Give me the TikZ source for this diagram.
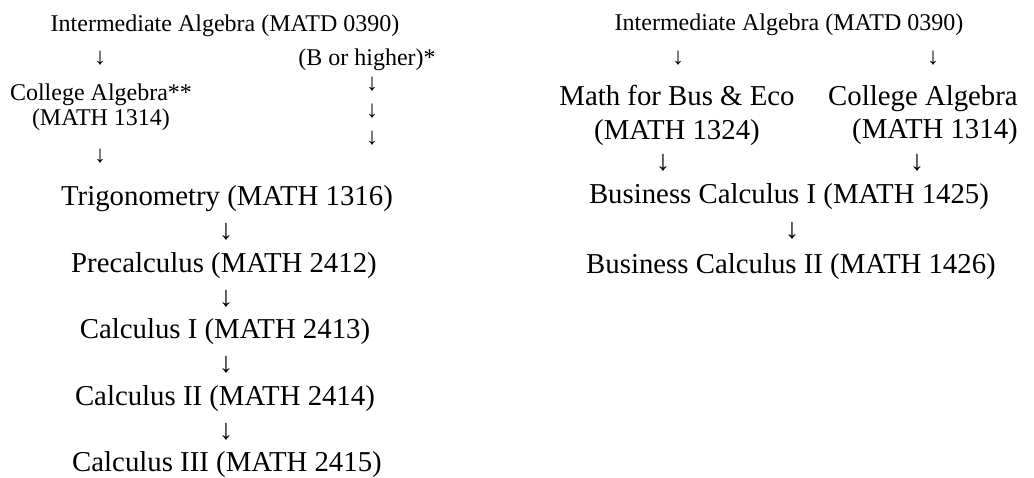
\documentclass[tikz,border=0pt]{standalone}
\usepackage{fontspec}
\setmainfont{Liberation Serif}
\usepackage{tikz}
\tikzset{
  crs/.style={inner sep=0pt, align=center, font=\fontsize{12}{12.8}\selectfont},
  crsbig/.style={inner sep=0pt, align=center, font=\fontsize{14.4}{16.6}\selectfont},
  dn/.style={inner sep=0pt, font=\fontsize{12}{14}\selectfont},
  dnbig/.style={inner sep=0pt, font=\fontsize{14.4}{16}\selectfont\bfseries}
}
\begin{document}
\begin{tikzpicture}[x=0.5pt,y=-0.5pt]
  \fill[white] (0,0) rectangle (1034,477);
  \useasboundingbox (0,0) rectangle (1034,477);
  % engineering / science track
  \node[crs,anchor=base] (ia) at (225,31) {Intermediate Algebra (MATD 0390)};
  \node[dn] (ia_ca) at (100,58) {↓};
  \node[crs,anchor=base] (bgrade) at (367,65) {(B or higher)*};
  \node[dn] (bg1) at (372,84) {↓};
  \node[dn] (bg2) at (372,111) {↓};
  \node[dn] (bg3) at (372,138) {↓};
  \node[crs,anchor=north] (ca) at (101,83) {College Algebra**\\(MATH 1314)};
  \node[dn] (ca_trig) at (100,156) {↓};
  \node[crsbig,anchor=base] (trig) at (227,205) {Trigonometry (MATH 1316)};
  \node[dnbig] (trig_pre) at (226,232) {↓};
  \node[crsbig,anchor=base] (precalc) at (224,272) {Precalculus (MATH 2412)};
  \node[dnbig] (pre_c1) at (226,299) {↓};
  \node[crsbig,anchor=base] (calc1) at (225,338) {Calculus I (MATH 2413)};
  \node[dnbig] (c1_c2) at (226,365) {↓};
  \node[crsbig,anchor=base] (calc2) at (225,405) {Calculus II (MATH 2414)};
  \node[dnbig] (c2_c3) at (226,432) {↓};
  \node[crsbig,anchor=base] (calc3) at (227,471) {Calculus III (MATH 2415)};
  % business track
  \node[crs,anchor=base] (ib) at (789,30) {Intermediate Algebra (MATD 0390)};
  \node[dn] (ib_mbe) at (678,58) {↓};
  \node[dn] (ib_cb) at (933,58) {↓};
  \node[crsbig,anchor=north] (mbe) at (677,85.3) {Math for Bus \& Eco\\(MATH 1324)};
  \node[crsbig,anchor=north] (cb) at (923,85.3) {College Algebra\\\hspace*{12pt}(MATH 1314)};
  \node[dnbig] (mbe_bc1) at (663,163) {↓};
  \node[dnbig] (cb_bc1) at (917,163) {↓};
  \node[crsbig,anchor=base] (bcalc1) at (789,203) {Business Calculus I (MATH 1425)};
  \node[dnbig] (bc1_bc2) at (792,231) {↓};
  \node[crsbig,anchor=base] (bcalc2) at (791,273) {Business Calculus II (MATH 1426)};
\end{tikzpicture}
\end{document}
